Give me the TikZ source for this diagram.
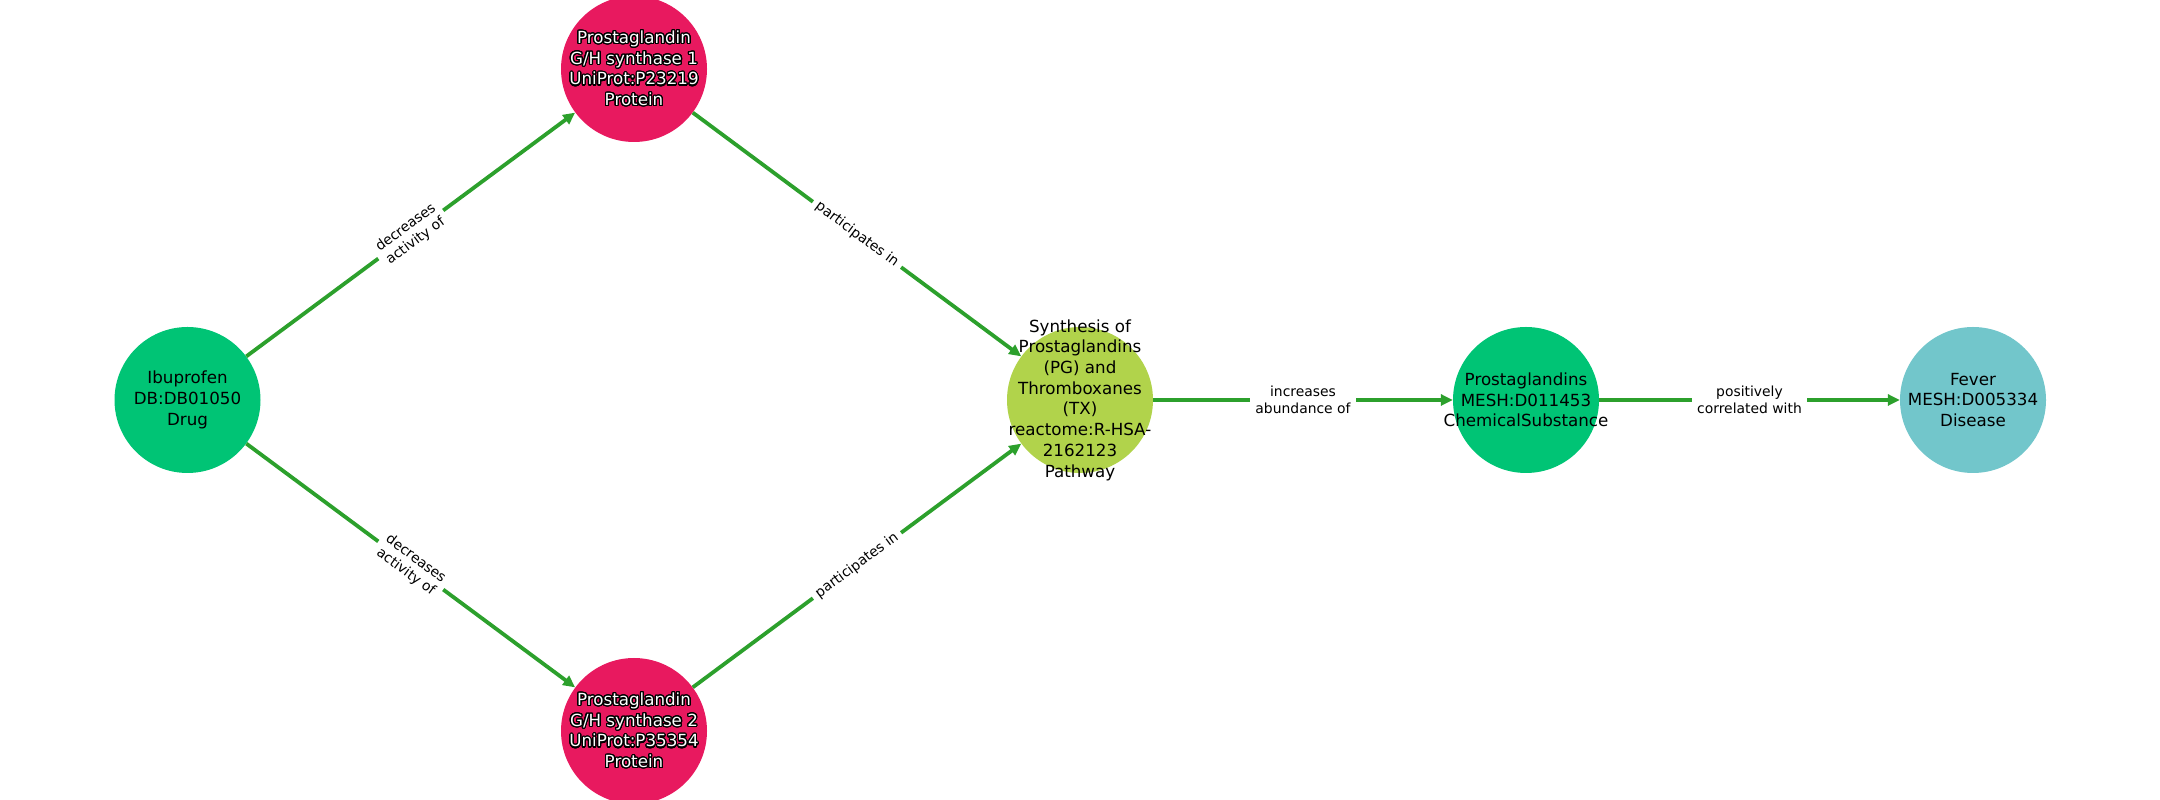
\documentclass[tikz,border=0pt]{standalone}
\usepackage{fontspec}
\setmainfont{DejaVu Sans}
\usepackage{contour}
\contourlength{1.2bp}
\contournumber{24}
\usetikzlibrary{arrows.meta}
\definecolor{druggreen}{HTML}{00C475}
\definecolor{protpink}{HTML}{E8195F}
\definecolor{pathlime}{HTML}{B1D34B}
\definecolor{diseaseteal}{HTML}{72C6CB}
\definecolor{edgegreen}{HTML}{2CA02C}
\newcommand{\outlinedtext}[1]{{\color{white}\contour{black}{#1}}}
\begin{document}
\begin{tikzpicture}[x=1bp,y=1bp,
  nodecirc/.style={circle, minimum size=146bp, inner sep=0pt, draw=none},
  ntext/.style={align=center, font=\fontsize{16.7bp}{20.7bp}\selectfont, text=black, inner sep=0pt},
  edge/.style={draw=edgegreen, line width=3.8bp, -{Triangle[length=12bp,width=11bp]}},
  lbl/.style={fill=white, inner xsep=5bp, inner ysep=1bp, align=center,
    font=\fontsize{13.9bp}{16.5bp}\selectfont, text=black, sloped}]
\useasboundingbox (0,0) rectangle (2160,800);
% circles
\node[nodecirc, fill=druggreen] (ibu) at (187.5,400) {};
\node[nodecirc, fill=protpink] (p1) at (634,731) {};
\node[nodecirc, fill=protpink] (p2) at (634,69) {};
\node[nodecirc, fill=pathlime] (pw) at (1080,400) {};
\node[nodecirc, fill=druggreen] (pg) at (1526,400) {};
\node[nodecirc, fill=diseaseteal] (fev) at (1973,400) {};
% edges
\draw[edge] (ibu) -- (p1) node[lbl, midway] {decreases\\activity of};
\draw[edge] (ibu) -- (p2) node[lbl, midway] {decreases\\activity of};
\draw[edge] (p1) -- (pw) node[lbl, midway] {participates in};
\draw[edge] (p2) -- (pw) node[lbl, midway] {participates in};
\draw[edge] (pw) -- (pg) node[lbl, midway] {increases\\abundance of};
\draw[edge] (pg) -- (fev) node[lbl, midway] {positively\\correlated with};
% texts
\node[ntext] (ibut) at (ibu) {Ibuprofen\\DB:DB01050\\Drug};
\node[ntext] (p1t) at (p1) {\outlinedtext{Prostaglandin}\\\outlinedtext{G/H synthase 1}\\\outlinedtext{UniProt:P23219}\\\outlinedtext{Protein}};
\node[ntext] (p2t) at (p2) {\outlinedtext{Prostaglandin}\\\outlinedtext{G/H synthase 2}\\\outlinedtext{UniProt:P35354}\\\outlinedtext{Protein}};
\node[ntext] (pwt) at (pw) {Synthesis of\\Prostaglandins\\(PG) and\\Thromboxanes\\(TX)\\reactome:R-HSA-\\2162123\\Pathway};
\node[ntext] (pgt) at (pg) {Prostaglandins\\MESH:D011453\\ChemicalSubstance};
\node[ntext] (fevt) at (fev) {Fever\\MESH:D005334\\Disease};
\end{tikzpicture}
\end{document}
